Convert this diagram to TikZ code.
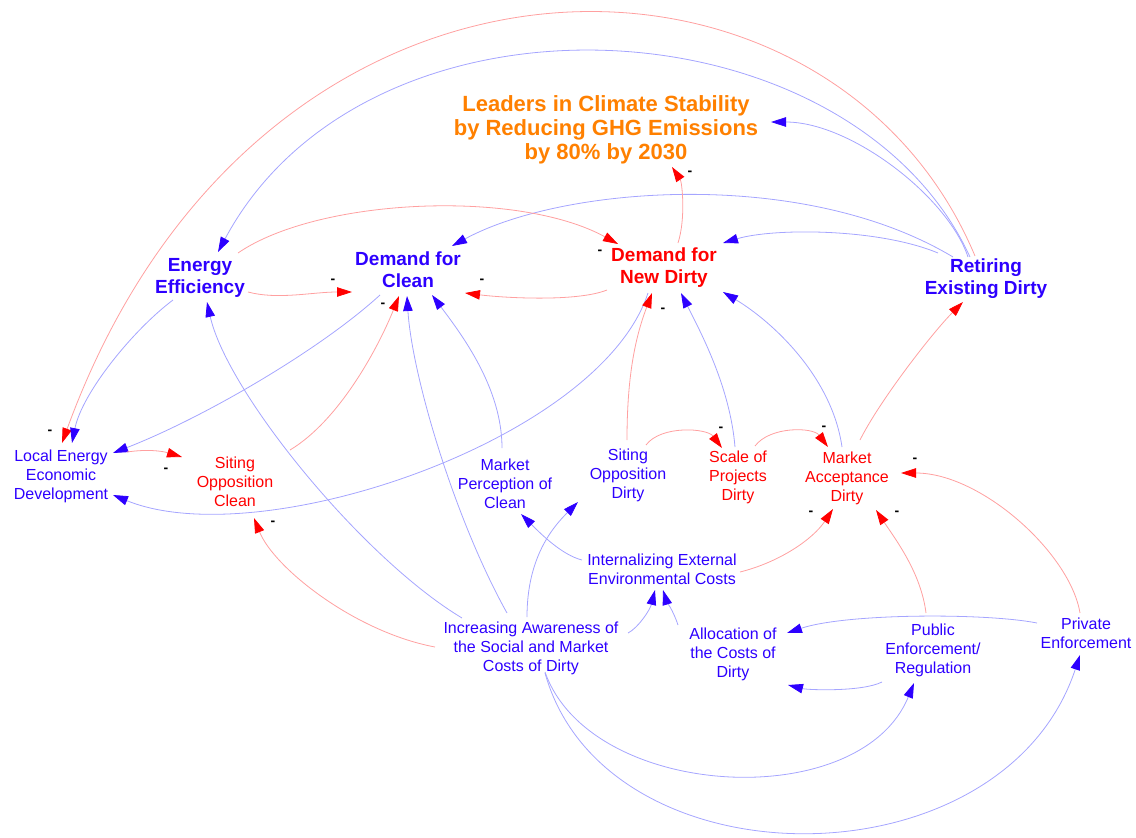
\documentclass[tikz,border=0pt]{standalone}
\usepackage{fontspec}
\setmainfont{Liberation Sans}
\usetikzlibrary{calc,arrows.meta}

\definecolor{varblue}{RGB}{45,0,255}
\definecolor{varred}{RGB}{255,0,0}
\definecolor{goalorange}{RGB}{255,128,0}
\definecolor{paleblue}{RGB}{165,165,255}
\definecolor{palered}{RGB}{255,160,160}

\begin{document}
\begin{tikzpicture}[
        x=1pt,y=-1pt,
        every node/.style = {align=center,inner sep=1pt},
        goalnode/.style = {text=goalorange,font=\fontsize{22}{24}\selectfont\bfseries},
        bigblue/.style = {text=varblue,font=\fontsize{19}{22}\selectfont\bfseries},
        bigred/.style = {text=varred,font=\fontsize{19}{22}\selectfont\bfseries},
        smallblue/.style = {text=varblue,font=\fontsize{16}{19}\selectfont},
        smallred/.style = {text=varred,font=\fontsize{16}{19}\selectfont},
        minus/.style = {text=black,font=\fontsize{14}{14}\selectfont\bfseries},
        lineblue/.style = {draw=paleblue,line width=.8pt,-{Triangle[length=15pt,width=9.5pt,color=varblue]}},
        linered/.style = {draw=palered,line width=.8pt,-{Triangle[length=15pt,width=9.5pt,color=varred]}},
        ]
        \useasboundingbox (0,0) rectangle (1136,838);
        % variables
        \node[goalnode] (goal) at (606,130) {Leaders in Climate Stability\\by Reducing GHG Emissions\\by 80\% by 2030};
        \node[bigblue] (energy-eff) at (200,278) {Energy\\Efficiency};
        \node[bigblue] (demand-clean) at (408,270) {Demand for\\Clean};
        \node[bigred] (demand-dirty) at (664,268) {Demand for\\New Dirty};
        \node[bigblue] (retiring) at (986,279) {Retiring\\Existing Dirty};
        \node[smallblue] (local-econ) at (61,476) {Local Energy\\Economic\\Development};
        \node[smallred] (siting-clean) at (235,482) {Siting\\Opposition\\Clean};
        \node[smallblue] (market-clean) at (505,484) {Market\\Perception of\\Clean};
        \node[smallblue] (siting-dirty) at (628,475) {Siting\\Opposition\\Dirty};
        \node[smallred] (scale-dirty) at (738,477) {Scale of\\Projects\\Dirty};
        \node[smallred] (market-dirty) at (847,478) {Market\\Acceptance\\Dirty};
        \node[smallblue] (internal-cost) at (662,569) {Internalizing External\\Environmental Costs};
        \node[smallblue] (awareness) at (531,648) {Increasing Awareness of\\the Social and Market\\Costs of Dirty};
        \node[smallblue] (allocation) at (733,654) {Allocation of\\the Costs of\\Dirty};
        \node[smallblue] (public-enf) at (933,650) {Public\\Enforcement/\\Regulation};
        \node[smallblue] (private-enf) at (1086,633) {Private\\Enforcement};

        % links from retiring
        \draw[linered] ($(retiring)+(-11,-23)$) .. controls +(-145,-346) and +(198,-543) .. ($(local-econ)+(1,-33)$)
            node[minus,xshift=-12pt,yshift=11pt] {-};
        \draw[lineblue] ($(retiring)+(-16,-22)$) .. controls +(-120,-260) and +(150,-280) .. ($(energy-eff)+(18,-26)$);
        \draw[lineblue] ($(retiring)+(-18,-22)$) .. controls +(-20,-60) and +(80,0) .. ($(goal)+(165,-8)$);
        \draw[lineblue] ($(retiring)+(-33,-22)$) .. controls +(-150,-90) and +(110,-60) .. ($(demand-clean)+(44,-24)$);
        \draw[lineblue] ($(retiring)+(-48,-26)$) .. controls +(-60,-25) and +(50,-15) .. ($(demand-dirty)+(59,-25)$);

        % demand nodes
        \draw[linered] ($(demand-dirty)+(14,-25)$) .. controls +(8,-25) and +(10,15) .. ($(goal)+(66,37)$)
            node[minus,xshift=18pt,yshift=-6pt] {-};
        \draw[linered] ($(energy-eff)+(38,-25)$) .. controls +(80,-55) and +(-100,-55) .. ($(demand-dirty)+(-46,-24)$)
            node[minus,xshift=-18pt,yshift=-8pt] {-};
        \draw[linered] ($(energy-eff)+(48,14)$) .. controls +(30,8) and +(-40,0) .. ($(demand-clean)+(-56,22)$)
            node[minus,xshift=-19pt,yshift=11pt] {-};
        \draw[linered] ($(demand-dirty)+(-57,22)$) .. controls +(-30,12) and +(40,5) .. ($(demand-clean)+(57,23)$)
            node[minus,xshift=17pt,yshift=12pt] {-};
        \draw[lineblue] ($(demand-clean)+(-28,25)$) .. controls +(-60,55) and +(90,-35) .. ($(local-econ)+(52,-23)$);
        \draw[lineblue] ($(energy-eff)+(-27,22)$) .. controls +(-40,30) and +(10,-50) .. ($(local-econ)+(11,-33)$);
        \draw[lineblue] ($(demand-dirty)+(-16,25)$) .. controls +(-48,147) and +(147,60) .. ($(local-econ)+(52,19)$);

        % clean side
        \draw[linered] ($(local-econ)+(66,-24)$) .. controls +(20,-3) and +(-20,-6) .. ($(siting-clean)+(-53,-25)$)
            node[minus,xshift=-16pt,yshift=-13pt] {-};
        \draw[linered] ($(siting-clean)+(55,-32)$) .. controls +(50,-30) and +(-20,50) .. ($(demand-clean)+(-9,26)$)
            node[minus,xshift=-16pt,yshift=-9pt] {-};
        \draw[lineblue] ($(awareness)+(-69,-30)$) .. controls +(-100,-60) and +(20,90) .. ($(energy-eff)+(7,24)$);
        \draw[lineblue] ($(awareness)+(-24,-35)$) .. controls +(-52,-93) and +(5,80) .. ($(demand-clean)+(-1,26)$);
        \draw[lineblue] ($(market-clean)+(-3,-36)$) .. controls +(0,-60) and +(30,40) .. ($(demand-clean)+(24,25)$);
        \draw[linered] ($(awareness)+(-96,-1)$) .. controls +(-80,-15) and +(20,50) .. ($(siting-clean)+(19,36)$)
            node[minus,xshift=19pt,yshift=-5pt] {-};
        \draw[lineblue] ($(awareness)+(-4,-31)$) .. controls +(0,-60) and +(-25,25) .. ($(siting-dirty)+(-50,27)$);
        \draw[lineblue] ($(internal-cost)+(-80,-9)$) .. controls +(-20,-5) and +(20,20) .. ($(market-clean)+(16,30)$);

        % dirty side
        \draw[linered] ($(siting-dirty)+(-1,-35)$) .. controls +(0,-70) and +(-15,40) .. ($(demand-dirty)+(-12,25)$)
            node[minus,xshift=11pt,yshift=-17pt] {-};
        \draw[lineblue] ($(scale-dirty)+(-3,-30)$) .. controls +(-5,-60) and +(20,40) .. ($(demand-dirty)+(17,25)$);
        \draw[lineblue] ($(market-dirty)+(-5,-31)$) .. controls +(-10,-70) and +(50,30) .. ($(demand-dirty)+(59,24)$);
        \draw[linered] ($(siting-dirty)+(18,-30)$) .. controls +(15,-20) and +(-15,-20) .. ($(scale-dirty)+(-16,-29)$)
            node[minus,xshift=-1pt,yshift=19pt] {-};
        \draw[linered] ($(scale-dirty)+(17,-31)$) .. controls +(15,-20) and +(-15,-20) .. ($(market-dirty)+(-19,-31)$)
            node[minus,xshift=-4pt,yshift=19pt] {-};
        \draw[linered] ($(market-dirty)+(13,-38)$) .. controls +(20,-40) and +(-30,30) .. ($(retiring)+(-23,23)$);
        \draw[linered] ($(internal-cost)+(78,3)$) .. controls +(40,-10) and +(-20,30) .. ($(market-dirty)+(-14,31)$)
            node[minus,xshift=-22pt,yshift=-4pt] {-};
        \draw[linered] ($(public-enf)+(-7,-37)$) .. controls +(-5,-40) and +(20,30) .. ($(market-dirty)+(29,32)$)
            node[minus,xshift=21pt,yshift=-3pt] {-};
        \draw[linered] ($(private-enf)+(-6,-20)$) .. controls +(-10,-60) and +(80,0) .. ($(market-dirty)+(54,-5)$)
            node[minus,xshift=14pt,yshift=13pt] {-};

        % costs and enforcement
        \draw[lineblue] ($(awareness)+(97,-15)$) .. controls +(10,-5) and +(-5,20) .. ($(internal-cost)+(-7,21)$);
        \draw[lineblue] ($(allocation)+(-55,-29)$) .. controls +(-5,-15) and +(3,10) .. ($(internal-cost)+(1,21)$);
        \draw[lineblue] ($(private-enf)+(-49,-10)$) .. controls +(-50,-10) and +(60,-20) .. ($(allocation)+(54,-21)$);
        \draw[lineblue] ($(public-enf)+(-51,32)$) .. controls +(-20,10) and +(20,5) .. ($(allocation)+(55,31)$);
        \draw[lineblue] ($(awareness)+(14,24)$) .. controls +(45,128) and +(-54,132) .. ($(public-enf)+(-19,33)$);
        \draw[lineblue] ($(awareness)+(14,25)$) .. controls +(60,215) and +(-77,233) .. ($(private-enf)+(-6,22)$);
    \end{tikzpicture}
\end{document}
